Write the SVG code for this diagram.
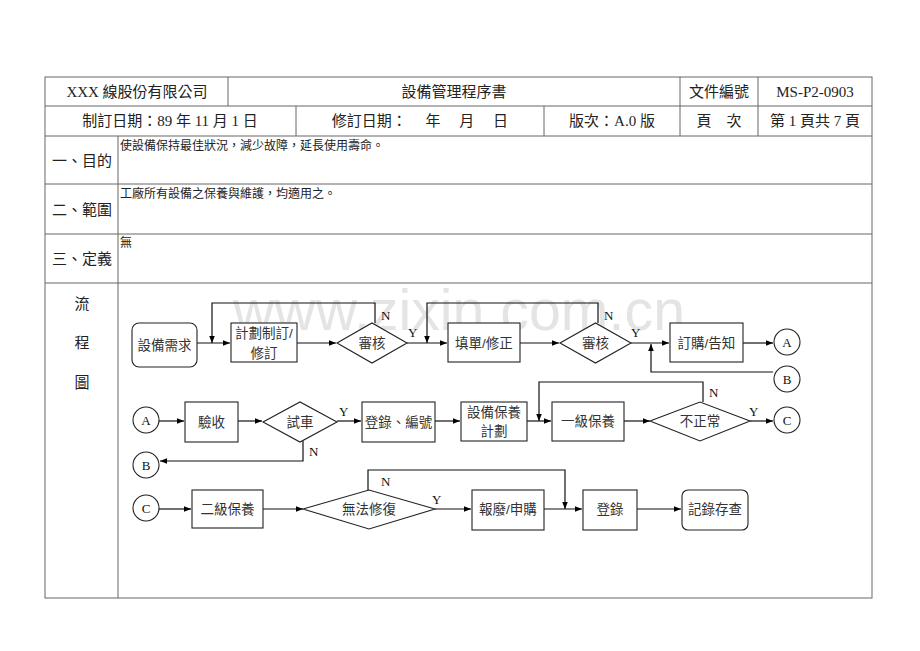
<svg xmlns="http://www.w3.org/2000/svg" width="920" height="651" viewBox="0 0 920 651">
<defs>
<marker id="ah" viewBox="0 0 10 10" refX="10" refY="5" markerWidth="7" markerHeight="7" markerUnits="userSpaceOnUse" orient="auto">
<path d="M0,1 L10,5 L0,9 z" fill="#000"/>
</marker>
<style>
.t{font-family:"Liberation Serif","Noto Sans CJK TC",serif;fill:#222}
.h{font-size:15px;text-anchor:middle}
.lb{font-size:15px;text-anchor:middle}
.c{font-size:12px}
.n{font-size:13.5px;text-anchor:middle;font-family:"Liberation Sans","Noto Sans CJK TC",sans-serif;fill:#333}
.yn{font-size:13px;font-family:"Liberation Serif",serif;fill:#111}
.grid{stroke:#666;stroke-width:1;fill:none}
.box{fill:#fff;stroke:#222;stroke-width:1.1}
.ln{fill:none;stroke:#111;stroke-width:1.2}
.ar{fill:none;stroke:#111;stroke-width:1.2;marker-end:url(#ah)}
.wm{font-family:"Liberation Sans",Arial,sans-serif;font-size:57px;fill:#e4e4e4}
</style>
</defs>
<rect width="920" height="651" fill="#fff"/>
<text class="wm" x="233" y="330" textLength="452" lengthAdjust="spacingAndGlyphs">www.zixin.com.cn</text>
<g id="table">
<rect class="grid" x="45" y="77" width="827" height="521"/>
<line class="grid" x1="45" y1="106" x2="872" y2="106"/>
<line class="grid" x1="45" y1="136" x2="872" y2="136"/>
<line class="grid" x1="45" y1="184" x2="872" y2="184"/>
<line class="grid" x1="45" y1="234" x2="872" y2="234"/>
<line class="grid" x1="45" y1="283" x2="872" y2="283"/>
<line class="grid" x1="228" y1="77" x2="228" y2="106"/>
<line class="grid" x1="680" y1="77" x2="680" y2="136"/>
<line class="grid" x1="758" y1="77" x2="758" y2="136"/>
<line class="grid" x1="296" y1="106" x2="296" y2="136"/>
<line class="grid" x1="544" y1="106" x2="544" y2="136"/>
<line class="grid" x1="118" y1="136" x2="118" y2="598"/>
<text class="t h" x="137" y="97">XXX 線股份有限公司</text>
<text class="t h" x="454" y="97">設備管理程序書</text>
<text class="t h" x="719" y="97">文件編號</text>
<text class="t h" x="815" y="97">MS-P2-0903</text>
<text class="t h" x="170" y="126">制訂日期：89 年 11 月 1 日</text>
<text class="t h" x="420" y="126" xml:space="preserve">修訂日期：　 年　 月　 日</text>
<text class="t h" x="612" y="126">版次：A.0 版</text>
<text class="t h" x="719" y="126" xml:space="preserve">頁　次</text>
<text class="t h" x="815" y="126">第 1 頁共 7 頁</text>
<text class="t lb" x="82" y="166">一、目的</text>
<text class="t lb" x="82" y="215">二、範圍</text>
<text class="t lb" x="82" y="264">三、定義</text>
<text class="t c" x="120" y="150">使設備保持最佳狀況，減少故障，延長使用壽命。</text>
<text class="t c" x="120" y="198">工廠所有設備之保養與維護，均適用之。</text>
<text class="t c" x="120" y="247">無</text>
<text class="t lb" x="82" y="309">流</text>
<text class="t lb" x="82" y="348">程</text>
<text class="t lb" x="82" y="388">圖</text>
</g>
<g id="connectors">
<line class="ar" x1="197" y1="343" x2="230" y2="343"/>
<line class="ar" x1="297" y1="343" x2="336" y2="343"/>
<polyline class="ar" points="375,323 375,303 212,303 212,343"/>
<line class="ar" x1="407" y1="343" x2="447" y2="343"/>
<line class="ar" x1="520" y1="343" x2="559" y2="343"/>
<polyline class="ar" points="598,323 598,303 427,303 427,343"/>
<line class="ar" x1="631" y1="343" x2="669" y2="343"/>
<line class="ar" x1="743" y1="343" x2="773" y2="343"/>
<polyline class="ar" points="773,372 651,372 651,344"/>
<line class="ar" x1="159" y1="421" x2="184" y2="421"/>
<line class="ar" x1="238" y1="421" x2="262" y2="421"/>
<line class="ar" x1="337" y1="421" x2="361" y2="421"/>
<polyline class="ar" points="303,441 303,461 160,461"/>
<line class="ar" x1="435" y1="421" x2="460" y2="421"/>
<line class="ar" x1="527" y1="421" x2="551" y2="421"/>
<polyline class="ar" points="703,402 703,382 539,382 539,421"/>
<line class="ar" x1="624" y1="421" x2="650" y2="421"/>
<line class="ar" x1="750" y1="421" x2="773" y2="421"/>
<line class="ar" x1="159" y1="509" x2="191" y2="509"/>
<line class="ar" x1="263" y1="509" x2="303" y2="509"/>
<polyline class="ar" points="368,490 368,470 565,470 565,509"/>
<line class="ar" x1="435" y1="509" x2="471" y2="509"/>
<line class="ar" x1="544" y1="509" x2="582" y2="509"/>
<line class="ar" x1="637" y1="509" x2="681" y2="509"/>
<text class="yn" x="381" y="320">N</text>
<text class="yn" x="408" y="337">Y</text>
<text class="yn" x="604" y="320">N</text>
<text class="yn" x="631" y="337">Y</text>
<text class="yn" x="339" y="416">Y</text>
<text class="yn" x="309" y="456">N</text>
<text class="yn" x="709" y="397">N</text>
<text class="yn" x="749" y="416">Y</text>
<text class="yn" x="381" y="486">N</text>
<text class="yn" x="432" y="504">Y</text>
</g>
<g id="n1"><rect class="box" x="132" y="323" width="65" height="44" rx="7"/><text class="n" x="164.5" y="350">設備需求</text></g>
<g id="n2"><rect class="box" x="231" y="323" width="66" height="39"/><text class="n" x="264" y="338">計劃制訂/</text><text class="n" x="264" y="358">修訂</text></g>
<g id="n3"><polygon class="box" points="337,343 372,323 407,343 372,363"/><text class="n" x="372" y="348">審核</text></g>
<g id="n4"><rect class="box" x="448" y="323" width="72" height="39"/><text class="n" x="484" y="348">填單/修正</text></g>
<g id="n5"><polygon class="box" points="560,343 595.5,323 631,343 595.5,363"/><text class="n" x="595.5" y="348">審核</text></g>
<g id="n6"><rect class="box" x="670" y="323" width="73" height="39"/><text class="n" x="706.5" y="348">訂購/告知</text></g>
<g id="cA1"><circle class="box" cx="787" cy="342" r="13"/><text class="yn" x="787" y="347" text-anchor="middle">A</text></g>
<g id="cB1"><circle class="box" cx="787" cy="379" r="13"/><text class="yn" x="787" y="384" text-anchor="middle">B</text></g>
<g id="cA2"><circle class="box" cx="146" cy="420" r="13"/><text class="yn" x="146" y="425" text-anchor="middle">A</text></g>
<g id="n7"><rect class="box" x="185" y="402" width="53" height="40"/><text class="n" x="211.5" y="427">驗收</text></g>
<g id="n8"><polygon class="box" points="263,422 300,402 337,422 300,442"/><text class="n" x="300" y="427">試車</text></g>
<g id="n9"><rect class="box" x="362" y="402" width="73" height="40"/><text class="n" x="398.5" y="427">登錄、編號</text></g>
<g id="cB2"><circle class="box" cx="146" cy="465" r="13"/><text class="yn" x="146" y="470" text-anchor="middle">B</text></g>
<g id="n10"><rect class="box" x="461" y="402" width="66" height="39"/><text class="n" x="494" y="417">設備保養</text><text class="n" x="494" y="436">計劃</text></g>
<g id="n11"><rect class="box" x="552" y="402" width="72" height="39"/><text class="n" x="588" y="426">一級保養</text></g>
<g id="n12"><polygon class="box" points="650,421 700,402 750,421 700,441"/><text class="n" x="700" y="426">不正常</text></g>
<g id="cC1"><circle class="box" cx="787" cy="420" r="13"/><text class="yn" x="787" y="425" text-anchor="middle">C</text></g>
<g id="cC2"><circle class="box" cx="146" cy="508" r="13"/><text class="yn" x="146" y="513" text-anchor="middle">C</text></g>
<g id="n13"><rect class="box" x="192" y="490" width="71" height="38"/><text class="n" x="227.5" y="514">二級保養</text></g>
<g id="n14"><polygon class="box" points="303,509 369,490 435,509 369,529"/><text class="n" x="369" y="514">無法修復</text></g>
<g id="n15"><rect class="box" x="472" y="490" width="72" height="40"/><text class="n" x="508" y="514">報廢/申購</text></g>
<g id="n16"><rect class="box" x="583" y="490" width="54" height="40"/><text class="n" x="610" y="514">登錄</text></g>
<g id="n17"><rect class="box" x="682" y="490" width="66" height="40" rx="6"/><text class="n" x="715" y="514">記錄存查</text></g>
</svg>
